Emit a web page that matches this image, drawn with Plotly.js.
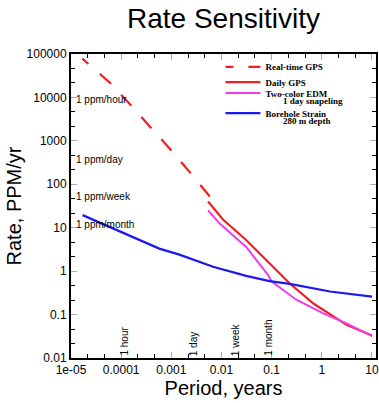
<!DOCTYPE html>
<html>
<head>
<meta charset="utf-8">
<script src="https://cdn.plot.ly/plotly-3.0.1.min.js"></script>
<style>
html,body{margin:0;padding:0;background:#fff;}
#chart{width:379px;height:403px;}
/* shift the dash phase of the dashed series so its first dash is partial, as in the reference */
#chart path[style*="15px"]{stroke-dashoffset:7px !important;}
</style>
</head>
<body>
<div id="chart"></div>
<script>
// ---- data ----
const rtPeriod = [1.69e-5, 6.2e-5, 1.56e-4, 4.2e-4, 1.1e-3, 2.7e-3, 6.4e-3];
const rtRate   = [78000, 21000, 6600, 1830, 530, 155, 46];

const dailyPeriod = [0.0054, 0.0107, 0.031, 0.078, 0.23, 0.68, 1.45, 3.1, 10];
const dailyRate   = [40, 15.5, 5.2, 1.8, 0.52, 0.18, 0.1, 0.058, 0.033];

const edmPeriod = [0.0054, 0.0091, 0.031, 0.085, 0.1, 0.31, 1.07, 3.1, 10];
const edmRate   = [25, 12.6, 3.6, 0.81, 0.575, 0.22, 0.107, 0.063, 0.032];

const bhPeriod = [1.7e-5, 7.8e-5, 5.75e-4, 1.45e-3, 6.8e-3, 0.031, 0.091, 0.23, 1.45, 10];
const bhRate   = [19.5, 8.9, 3.3, 2.4, 1.26, 0.78, 0.59, 0.51, 0.34, 0.26];

const seriesNames = ['Real-time GPS', 'Daily GPS', 'Two-color EDM', 'Borehole Strain'];
const seriesNotes = ['', '', '1 day snapeling', '280 m depth'];

const rateLabels = ['1 ppm/hour', '1 ppm/day', '1 ppm/week', '1 ppm/month'];
const rateValues = [8766, 365.25, 52.18, 12];

const periodLabels = ['1 hour', '1 day', '1 week', '1 month'];
const periodValues = [1/8766, 1/365.25, 7/365.25, 1/12];

const xTickVals = [1e-5, 1e-4, 1e-3, 1e-2, 1e-1, 1, 10];
const xTickText = ['1e-05', '0.0001', '0.001', '0.01', '0.1', '1', '10'];
const yTickVals = [0.01, 0.1, 1, 10, 100, 1000, 10000, 100000];
const yTickText = ['0.01', '0.1', '1', '10', '100', '1000', '10000', '100000'];

// ---- drawing ----
const RED = 'rgb(245,30,30)', MAG = 'rgb(238,60,238)', BLUE = 'rgb(25,25,240)';
const traces = [
  {x: rtPeriod, y: rtRate, name: seriesNames[0], legend: 'legend', mode: 'lines', line: {color: RED, width: 2.2, dash: '15px,15px'}},
  {x: dailyPeriod, y: dailyRate, name: seriesNames[1], legend: 'legend2', mode: 'lines', line: {color: RED, width: 2.2}},
  {x: edmPeriod, y: edmRate, name: seriesNames[2], legend: 'legend3', mode: 'lines', line: {color: MAG, width: 2}},
  {x: bhPeriod, y: bhRate, name: seriesNames[3], legend: 'legend4', mode: 'lines', line: {color: BLUE, width: 2.2}}
];

function minorVals(lo, hi) {
  const v = [];
  for (let k = lo * 3; k <= hi * 3; k++) { if (k % 3 !== 0) v.push(Math.pow(10, k / 3)); }
  return v;
}

const FONT = 'Liberation Sans, Arial, Helvetica, sans-serif';
const SERIF = 'Liberation Serif, Times New Roman, serif';
const labelPeriod = 1.17e-5;
const annotations = [];
rateLabels.forEach((t, i) => annotations.push({
  x: Math.log10(labelPeriod), y: Math.log10(rateValues[i]), xref: 'x', yref: 'y',
  text: t, showarrow: false, xanchor: 'left', yanchor: 'middle',
  font: {family: FONT, size: 10, color: '#000'}
}));
periodLabels.forEach((t, i) => annotations.push({
  x: Math.log10(periodValues[i]), y: -2, xref: 'x', yref: 'y',
  text: t, showarrow: false, textangle: -90, xanchor: 'center', yanchor: 'bottom',
  font: {family: FONT, size: 10, color: '#000'}
}));

// legend: one box per series, placed like the reference
const legendY = [1.0056, 0.9553, 0.919, 0.8533];
const noteY = [0, 0, 0.844, 0.778];
const legendFont = {family: SERIF, size: 9, color: '#000', weight: 'bold'};
const legends = {};
legendY.forEach((y, i) => {
  legends[i === 0 ? 'legend' : 'legend' + (i + 1)] = {
    x: 0.49, xref: 'paper', xanchor: 'left', y: y, yref: 'paper', yanchor: 'top',
    bgcolor: 'rgba(0,0,0,0)', borderwidth: 0, itemwidth: 35, font: legendFont
  };
  if (seriesNotes[i]) annotations.push({
    x: 0.689, y: noteY[i], xref: 'paper', yref: 'paper', xanchor: 'left', yanchor: 'middle',
    text: seriesNotes[i], showarrow: false, font: legendFont
  });
});

const axisCommon = {
  type: 'log', showgrid: false, zeroline: false,
  showline: true, linecolor: '#000', linewidth: 2, mirror: 'allticks',
  ticks: 'inside', ticklen: 6, tickcolor: '#aaa', tickwidth: 1,
  tickfont: {family: FONT, size: 12, color: '#000'},
  tickmode: 'array'
};

const layout = Object.assign({
  width: 379, height: 403,
  margin: {l: 71, r: 3, t: 54, b: 45},
  paper_bgcolor: '#fff', plot_bgcolor: '#fff',
  title: {text: 'Rate Sensitivity', font: {family: FONT, size: 28, color: '#000'},
          x: 0.5, xref: 'paper', xanchor: 'center', y: 0.955, yref: 'container', yanchor: 'middle'},
  xaxis: Object.assign({}, axisCommon, {
    range: [-5, 1.08], tickvals: xTickVals, ticktext: xTickText,
    minor: {tickmode: 'array', tickvals: minorVals(-5, 1), ticks: 'inside', ticklen: 4, tickcolor: '#000', tickwidth: 1},
    title: {text: 'Period, years', font: {family: FONT, size: 20, color: '#000'}, standoff: 4},
    automargin: false
  }),
  yaxis: Object.assign({}, axisCommon, {
    range: [-2, 5], tickvals: yTickVals, ticktext: yTickText,
    minor: {tickmode: 'array', tickvals: minorVals(-2, 5), ticks: 'inside', ticklen: 4, tickcolor: '#000', tickwidth: 1},
    title: {text: 'Rate, PPM/yr', font: {family: FONT, size: 20, color: '#000'}, standoff: 0},
    automargin: false
  }),
  showlegend: true,
  annotations: annotations
}, legends);

Plotly.newPlot('chart', traces, layout, {displayModeBar: false, staticPlot: true});
</script>
</body>
</html>
